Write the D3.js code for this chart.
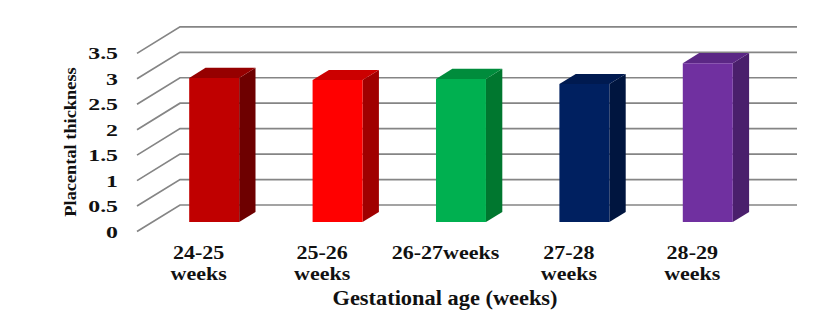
<!DOCTYPE html>
<html>
<head>
<meta charset="utf-8">
<script src="https://cdn.jsdelivr.net/npm/d3@7"></script>
<style>
  html, body { margin: 0; padding: 0; background: #ffffff; }
  svg text { font-family: "Liberation Serif", "Times New Roman", serif; font-weight: bold; fill: #111; }
</style>
</head>
<body>
<svg id="chart" width="838" height="326"></svg>
<script>
// Placental thickness by gestational age group
const categories = ["24-25 weeks", "25-26 weeks", "26-27weeks", "27-28 weeks", "28-29 weeks"];
const tickLines = [["24-25", "weeks"], ["25-26", "weeks"], ["26-27weeks"], ["27-28", "weeks"], ["28-29", "weeks"]];
const values = [2.83, 2.79, 2.81, 2.71, 3.12];
const frontColors = ["#c00000", "#ff0000", "#00b050", "#002060", "#7030a0"];
const sideColors = ["#6e0000", "#a00000", "#00772f", "#00153f", "#4a1f6c"];
const topColors = ["#960000", "#cc0000", "#008c3c", "#001a50", "#5b2785"];
const yTicks = [0, 0.5, 1, 1.5, 2, 2.5, 3, 3.5];

const svg = d3.select("#chart");

// oblique 3D projection: depth d in [0,1] shifts right and up
const depthX = 43, depthY = 26.5;
const frontLeft = 137, frontRight = 754;

const x = d3.scaleBand().domain(categories).range([frontLeft, frontRight])
  .paddingInner(0.595).paddingOuter(0.2975);
const y = d3.scaleLinear().domain([0, 3.5]).range([231.5, 231.5 - 3.5 * 50.9]);

const proj = (px, v, d) => [px + d * depthX, y(v) - d * depthY];

// gridlines: side-wall diagonals and back-wall horizontals
const grid = svg.append("g").attr("fill", "none").attr("stroke", "#858585").attr("stroke-width", 1.7);
yTicks.forEach(t => {
  const a = proj(frontLeft, t, 0), b = proj(frontLeft, t, 1), c = proj(frontRight, t, 1);
  grid.append("path").attr("d", d3.line()([a, b, c]));
});

// bars
const d0 = 0.36, d1 = 0.74;
const bars = svg.append("g");
categories.forEach((c, i) => {
  const v = values[i];
  const x0 = x(c), x1 = x(c) + x.bandwidth();
  const line = d3.line();
  // side face
  bars.append("path").attr("fill", sideColors[i])
    .attr("d", line([proj(x1, 0, d0), proj(x1, 0, d1), proj(x1, v, d1), proj(x1, v, d0)]) + "Z");
  // top face
  bars.append("path").attr("fill", topColors[i])
    .attr("d", line([proj(x0, v, d0), proj(x1, v, d0), proj(x1, v, d1), proj(x0, v, d1)]) + "Z");
  // front face
  bars.append("path").attr("fill", frontColors[i])
    .attr("d", line([proj(x0, 0, d0), proj(x1, 0, d0), proj(x1, v, d0), proj(x0, v, d0)]) + "Z");
});

// y tick labels
svg.append("g").selectAll("text").data(yTicks).join("text")
  .attr("transform", d => `translate(118,${y(d) + 6}) scale(1.4,1)`)
  .attr("text-anchor", "end")
  .style("font-size", "17px")
  .text(d => d);

// x tick labels, centred on the front edge of each category band, one text per line
const cx = d => x(d) + x.bandwidth() / 2;
const tickRows = categories.flatMap((c, i) => tickLines[i].map((s, j) => ({ c, s, j })));
svg.append("g").selectAll("text").data(tickRows).join("text")
  .attr("text-anchor", "middle")
  .attr("transform", d => `translate(${cx(d.c)},${258.5 + d.j * 21.5}) scale(1.19,1)`)
  .style("font-size", "18.5px")
  .text(d => d.s);

// axis titles
svg.append("text")
  .attr("transform", "translate(445,304.5) scale(1.12,1)")
  .attr("text-anchor", "middle")
  .style("font-size", "20px")
  .text("Gestational age (weeks)");

svg.append("text")
  .attr("transform", "translate(76,142) rotate(-90) scale(1.08,1)")
  .attr("text-anchor", "middle")
  .style("font-size", "17px")
  .text("Placental thickness");
</script>
</body>
</html>
